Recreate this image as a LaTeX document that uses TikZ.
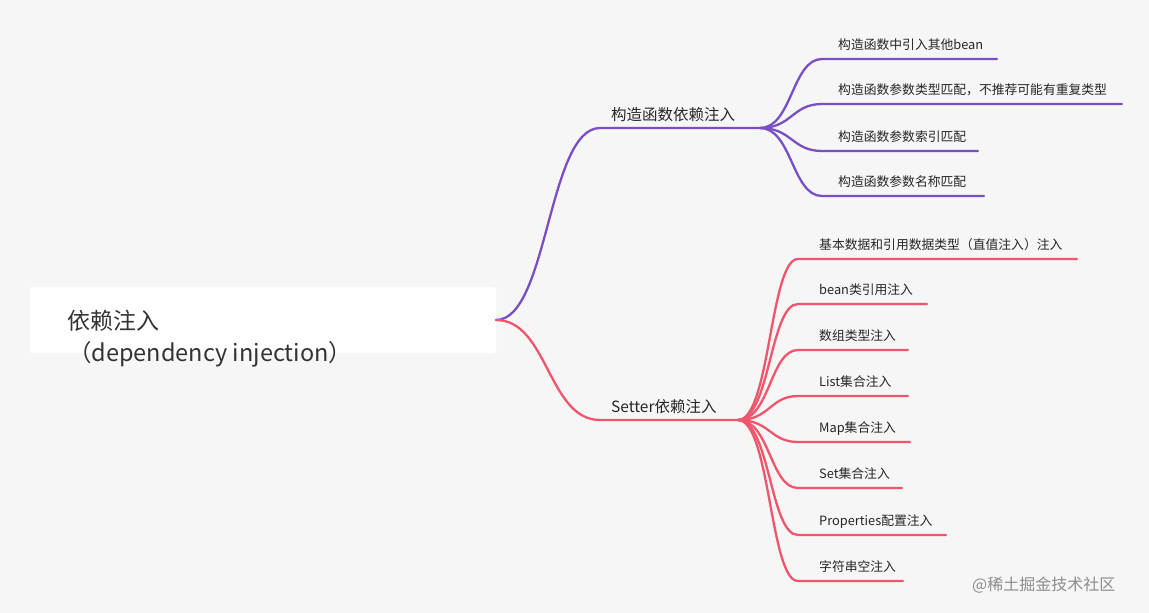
\documentclass[tikz,border=0pt]{standalone}
\usepackage{fontspec}
\setmainfont{Noto Sans CJK SC}
\definecolor{bg}{HTML}{F6F6F7}
\definecolor{pur}{HTML}{7B4FC4}
\definecolor{red}{HTML}{F0566B}
\begin{document}
\begin{tikzpicture}[x=1pt,y=-1pt,
  br/.style={line width=2.3pt,line cap=round},
  lab/.style={anchor=base west,inner sep=0pt,font=\fontsize{12.8}{14}\selectfont,text=black!85},
  lab1/.style={anchor=base west,inner sep=0pt,font=\fontsize{15.5}{18}\selectfont,text=black!85}]
\fill[bg] (0,0) rectangle (1149,613);
\useasboundingbox (0,0) rectangle (1149,613);
\fill[white,rounded corners=3pt] (30,287) rectangle (496,353);
\node[anchor=base west,inner sep=0pt,font=\fontsize{23}{26}\selectfont,text=black!80] (root) at (67,329) {依赖注入};
\node[anchor=base west,inner sep=0pt,font=\fontsize{23.5}{26}\selectfont,text=black!80] (root2) at (68,361) {（dependency injection）};
\coordinate (r) at (496,320);
\coordinate (a0) at (600,128); \coordinate (a1) at (760,128);
\coordinate (b0) at (600,420); \coordinate (b1) at (738,420);
\draw[br,pur] (r) .. controls (548,320) and (548,128) .. (a0) -- (a1);
\draw[br,red] (r) .. controls (548,320) and (548,420) .. (b0) -- (b1);
\node[lab1] (A) at (611,120) {构造函数依赖注入};
\node[lab1] (B) at (611,412) {Setter依赖注入};
\foreach \y/\e/\t in {59/997/构造函数中引入其他bean,104/1122/{构造函数参数类型匹配，不推荐可能有重复类型},151/978/构造函数参数索引匹配,196/984/构造函数参数名称匹配}{
  \draw[br,pur] (a1) .. controls (792,128) and (792,\y) .. (822,\y) -- (\e,\y);
  \node[lab] at (838,\y-10) {\t};
}
\foreach \y/\e/\t in {259/1077/基本数据和引用数据类型（直值注入）注入,304/927/bean类引用注入,350/908/数组类型注入,396/908/List集合注入,442/910/Map集合注入,488/902/Set集合注入,535/946/Properties配置注入,581/903/字符串空注入}{
  \draw[br,red] (b1) .. controls (770,420) and (770,\y) .. (798,\y) -- (\e,\y);
  \node[lab] at (819,\y-10) {\t};
}
\node[anchor=base west,inner sep=0pt,font=\fontsize{16}{18}\selectfont,text=black!45] (wm) at (972,590) {@稀土掘金技术社区};
\end{tikzpicture}
\end{document}
